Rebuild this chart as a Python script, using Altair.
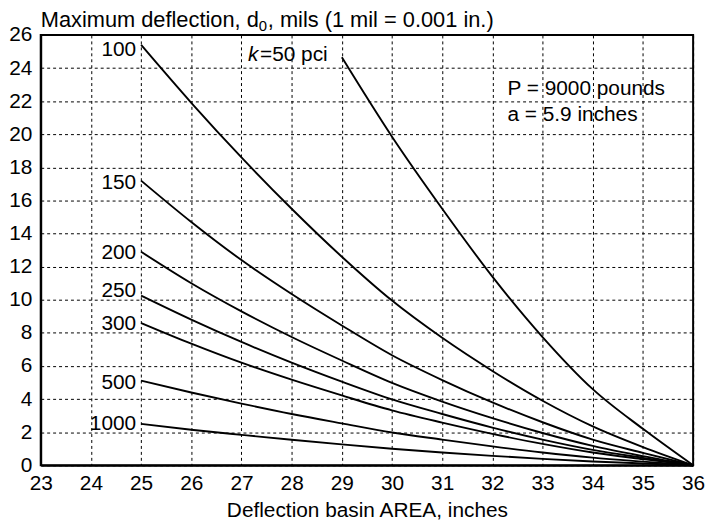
import altair as alt
import pandas as pd

# ---- data ----
area_50 = [29, 30, 31, 32, 33, 34, 35, 36]
d_50 = [24.65, 19.85, 15.5, 11.4, 7.75, 4.6, 2.2, 0.0]

area_main = [25, 26, 27, 28, 29, 30, 31, 32, 33, 34, 35, 36]
d_100 = [25.4, 21.9, 18.6, 15.5, 12.6, 9.95, 7.7, 5.7, 3.9, 2.35, 1.1, 0.0]
d_150 = [17.2, 14.7, 12.4, 10.35, 8.45, 6.65, 5.15, 3.8, 2.6, 1.55, 0.75, 0.0]
d_200 = [12.9, 11.0, 9.3, 7.75, 6.33, 4.98, 3.85, 2.85, 1.95, 1.17, 0.55, 0.0]
d_250 = [10.25, 8.8, 7.45, 6.2, 5.05, 3.98, 3.1, 2.28, 1.55, 0.93, 0.45, 0.0]
d_300 = [8.6, 7.35, 6.2, 5.17, 4.22, 3.32, 2.58, 1.9, 1.29, 0.77, 0.37, 0.0]
d_500 = [5.12, 4.4, 3.73, 3.1, 2.53, 1.98, 1.55, 1.14, 0.77, 0.46, 0.22, 0.0]
d_1000 = [2.5, 2.15, 1.84, 1.54, 1.26, 1.0, 0.77, 0.57, 0.39, 0.23, 0.11, 0.0]

curve_labels = ["100", "150", "200", "250", "300", "500", "1000"]
curve_label_y = [25.1, 17.07, 12.84, 10.54, 8.56, 4.95, 2.5]

x_ticks = list(range(23, 37))
y_ticks = list(range(0, 27, 2))

FONT = "Liberation Sans"
FS = 21
TFS = 22

rows = []
for a, d in zip(area_50, d_50):
    rows.append({"k": "50", "area": a, "d": d})
for name, series in [("100", d_100), ("150", d_150), ("200", d_200), ("250", d_250),
                     ("300", d_300), ("500", d_500), ("1000", d_1000)]:
    for a, d in zip(area_main, series):
        rows.append({"k": name, "area": a, "d": d})
df = pd.DataFrame(rows)

xscale = alt.Scale(domain=[23, 36], nice=False, zero=False)
yscale = alt.Scale(domain=[0, 26], nice=False)
xaxis = alt.Axis(values=x_ticks, title="Deflection basin AREA, inches", format="d",
                 labelOverlap=False, labelFlush=False)
yaxis = alt.Axis(values=y_ticks, title=None, format="d", labelOverlap=False, labelFlush=False)


def tx(field="area"):
    return alt.X(f"{field}:Q", scale=xscale, axis=xaxis)


def ty(field="d"):
    return alt.Y(f"{field}:Q", scale=yscale, axis=yaxis)


lines = alt.Chart(df).mark_line(color="black", strokeWidth=1.9, interpolate="monotone").encode(
    x=tx(), y=ty(), detail="k:N",
)

lab_df = pd.DataFrame({"area": [25] * len(curve_labels), "d": curve_label_y, "t": curve_labels})
labels = alt.Chart(lab_df).mark_text(align="right", baseline="middle", dx=-5,
                                     font=FONT, fontSize=FS, color="black").encode(
    x=tx(), y=ty(), text="t:N")

k_df = pd.DataFrame({"area": [27.13], "d": [24.77], "t": ["k"]})
k_txt = alt.Chart(k_df).mark_text(align="left", baseline="middle", font=FONT, fontSize=FS,
                                  fontStyle="italic", color="black").encode(
    x=tx(), y=ty(), text="t:N")
k2_df = pd.DataFrame({"area": [27.37], "d": [24.77], "t": ["=50 pci"]})
k2_txt = alt.Chart(k2_df).mark_text(align="left", baseline="middle", font=FONT, fontSize=FS,
                                    color="black").encode(
    x=tx(), y=ty(), text="t:N")

note_df = pd.DataFrame({"area": [32.3, 32.3], "d": [22.75, 21.16],
                        "t": ["P = 9000 pounds", "a = 5.9 inches"]})
notes = alt.Chart(note_df).mark_text(align="left", baseline="middle", font=FONT, fontSize=FS,
                                     color="black").encode(
    x=tx(), y=ty(), text="t:N")

# y-axis title built from three text pieces (main text, subscript 0, rest)
title_parts = ["Maximum deflection, d", "0", ", mils (1 mil = 0.001 in.)"]
title_dx = [0, 220, 229]
title_dy = [-8, -4, -8]
title_fs = [TFS, 15, TFS]
title_layers = []
for part, dxv, dyv, fsv in zip(title_parts, title_dx, title_dy, title_fs):
    tdf = pd.DataFrame({"area": [23], "d": [26], "t": [part]})
    title_layers.append(
        alt.Chart(tdf).mark_text(align="left", baseline="alphabetic", dx=dxv, dy=dyv,
                                 font=FONT, fontSize=fsv, color="black").encode(
            x=tx(), y=ty(), text="t:N")
    )

chart = alt.layer(lines, labels, k_txt, k2_txt, notes, *title_layers).properties(
    width=658, height=434,
    autosize=alt.AutoSizeParams(type="none"),
    padding={"left": 33, "top": 25, "right": 14, "bottom": 55},
).configure_view(
    stroke="black", strokeWidth=2
).configure_axis(
    grid=True, gridColor="black", gridDash=[3, 3], gridWidth=1, gridOpacity=1,
    domain=True, domainColor="black", domainWidth=2,
    ticks=False, labelFont=FONT, labelFontSize=FS, labelColor="black",
    labelOverlap=False, labelFlush=False,
    titleFont=FONT, titleFontSize=FS, titleColor="black", titleFontWeight="normal",
).configure_axisX(
    labelPadding=7, titlePadding=7
).configure_axisY(
    labelPadding=9
)

chart.save("out.html", embed_options={"renderer": "svg", "actions": False})
